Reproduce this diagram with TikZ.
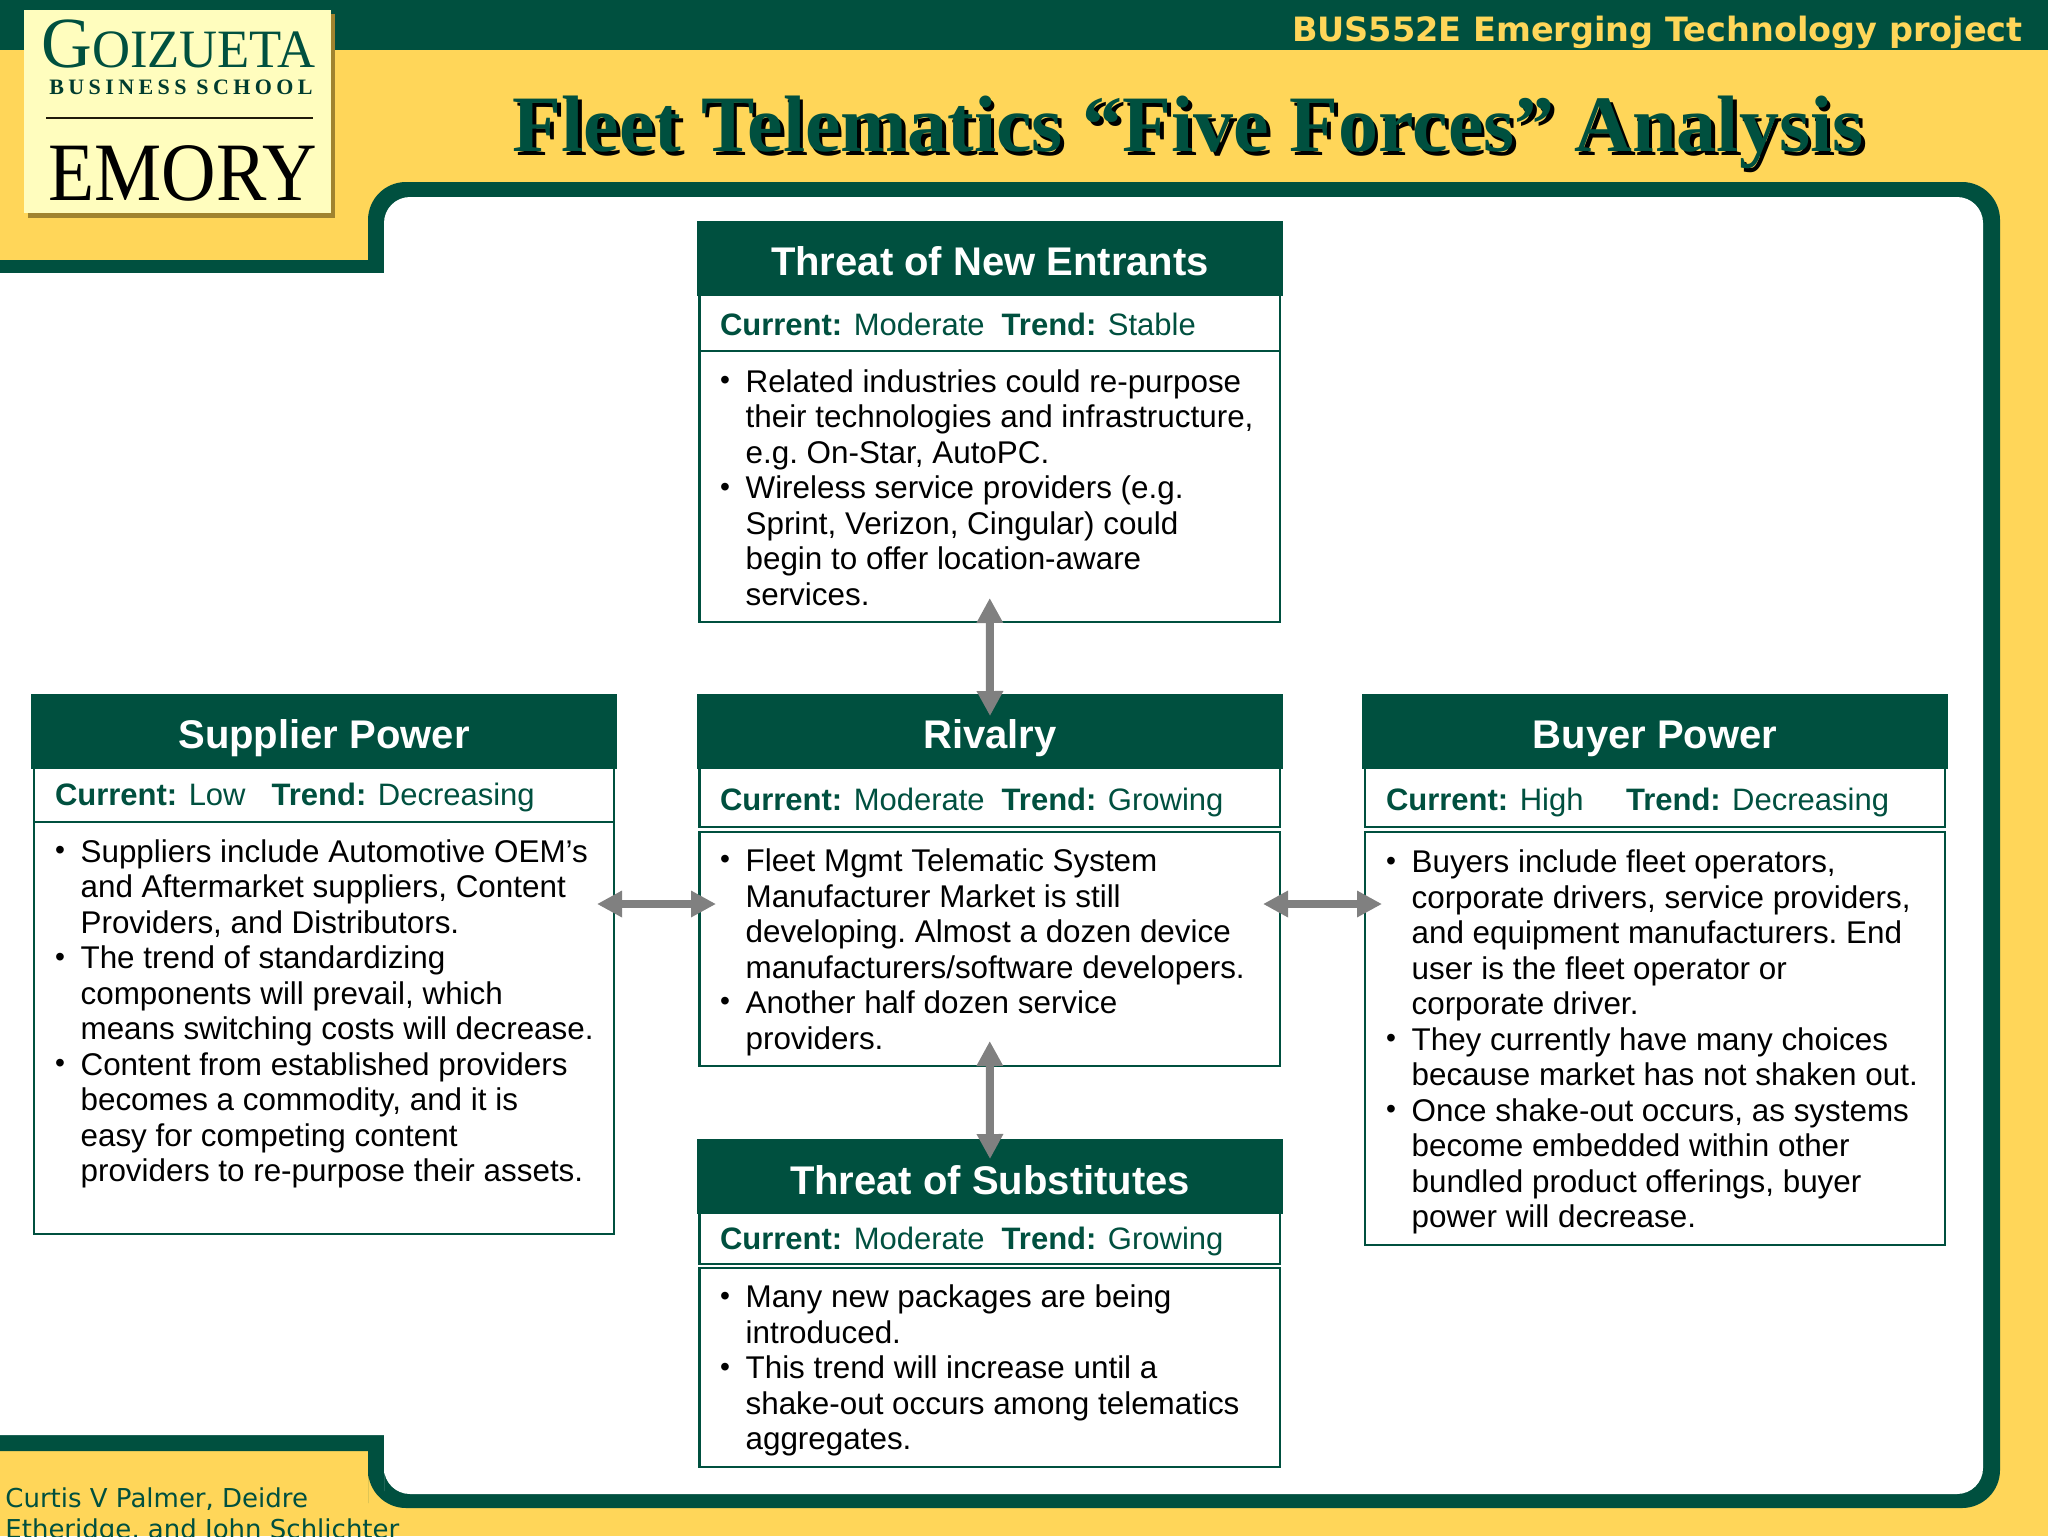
\documentclass[tikz,border=0pt]{standalone}
\usepackage{fontspec}
\usepackage{graphicx}
\setmainfont{Liberation Sans}
\newfontfamily\timesf{Liberation Serif}
\newfontfamily\timesls[LetterSpace=20]{Liberation Serif}
\newfontfamily\verd{DejaVu Sans}
\usetikzlibrary{arrows.meta,calc}
\definecolor{dkgreen}{HTML}{00503F}
\definecolor{bgyellow}{HTML}{FFD659}
\definecolor{logoyellow}{HTML}{FFFDBE}
\definecolor{logoshadow}{HTML}{A0832F}
\definecolor{arrowgray}{HTML}{808080}
\tikzset{
  px/.style={x=0.5pt,y=-0.5pt},
  headbox/.style={fill=dkgreen,draw=dkgreen,line width=1pt,inner sep=0pt,outer sep=0pt,text=white,font=\bfseries\fontsize{20}{24}\selectfont},
  linebox/.style={draw=dkgreen,fill=white,line width=1.4pt,inner sep=0pt,outer sep=0pt},
  statustext/.style={anchor=base west,inner sep=0pt,outer sep=0pt,text=dkgreen,font=\fontsize{15.5}{18}\selectfont},
  bodytext/.style={anchor=north west,inner sep=0pt,outer sep=0pt,align=left,text=black,font=\frenchspacing\fontsize{15.7}{17.75}\selectfont},
  biarrow/.style={draw=arrowgray,line width=4pt,{Triangle[length=12.5pt,width=12.5pt,fill=arrowgray]}-{Triangle[length=12.5pt,width=12.5pt,fill=arrowgray]}},
}
\newcommand\pxbox[7]{\node[#1,minimum width={0.5pt*(#4-#3)},minimum height={0.5pt*(#6-#5)}] (#2) at ({(#3+#4)/2},{(#5+#6)/2}) {#7};}
\newcommand\bul{\strut\makebox[12.8pt][l]{\raisebox{1.3pt}{\scalebox{.9}{•}}}}
\newcommand\cont{\strut\hspace*{12.8pt}}
\newcommand\stat[4]{\textbf{Current:} #1\hspace{#2}\textbf{Trend:} #3}
\newcommand\headtxt[2]{\raisebox{#1}[0pt][0pt]{#2}}
\begin{document}
\begin{tikzpicture}[px]
\useasboundingbox (0,0) rectangle (2048,1536);
\fill[bgyellow] (0,0) rectangle (2048,1536);
\fill[dkgreen] (0,0) rectangle (2048,50);
% frame
\fill[dkgreen] (-60,260) -- (368,260) -- (368,235) [rounded corners=19pt] -- (368,182) -- (2000,182) -- (2000,1508) -- (368,1508) -- (368,1465) [sharp corners] -- (368,1451) -- (-60,1451) -- cycle;
\fill[white] (-60,273) -- (384,273) -- (384,235) [rounded corners=13pt] -- (384,197) -- (1983,197) -- (1983,1494) -- (384,1494) -- (384,1465) [sharp corners] -- (384,1435) -- (-60,1435) -- cycle;
% logo
\fill[logoshadow] (28,14) rectangle (335,218);
\fill[logoyellow] (24,10) rectangle (331,213);
\node[anchor=base west,inner sep=0pt,text=dkgreen] (goiz) at (41,68) {\scalebox{.975}[1]{\timesf\fontsize{36}{36}\selectfont G\fontsize{27}{27}\selectfont OIZUETA}};
\node[anchor=base west,inner sep=0pt,text=dkgreen!75!black] (bsch) at (49,95) {\timesls\bfseries\fontsize{11}{11}\selectfont BUSINESS SCHOOL};
\draw[line width=.8pt,draw=black!80!logoshadow] (46,118) -- (313,118);
\node[anchor=base west,inner sep=0pt,text=black] (emory) at (48,200) {\scalebox{.91}[1]{\timesf\fontsize{41.5}{41.5}\selectfont EMORY}};
% top texts
\node[anchor=base east,inner sep=0pt,text=bgyellow] (proj) at (2023,42) {\verd\bfseries\fontsize{16.75}{18}\selectfont BUS552E Emerging Technology project};
\node[anchor=base,inner sep=0pt,text=dkgreen] (title) at (1188,151) {\rlap{\hspace{1.8pt}\raisebox{-2pt}{\textcolor{black}{\timesf\bfseries\fontsize{40}{44}\selectfont Fleet Telematics “Five Forces” Analysis}}}\timesf\bfseries\fontsize{40}{44}\selectfont Fleet Telematics “Five Forces” Analysis};
\node[anchor=north west,inner sep=0pt,text=dkgreen,align=left,font=\verd\fontsize{13}{15.5}\selectfont] (authors) at (5,1485.3) {\strut Curtis V Palmer, Deidre\\ \strut Etheridge, and John Schlichter};
% Threat of New Entrants
\pxbox{linebox}{entstat}{699.5}{1280}{290}{351}{}
\pxbox{linebox}{entbody}{699.5}{1280}{351}{622}{}
\pxbox{headbox}{enthead}{698}{1282}{222}{295}{\headtxt{-8.45pt}{Threat of New Entrants}}
\node[statustext] (entst) at (720,335) {\stat{Moderate}{8.5pt}{Stable}{}};
\node[bodytext] (entbt) at (720,367.4) {\bul Related industries could re-purpose\\ \cont their technologies and infrastructure,\\ \cont e.g. On-Star, AutoPC.\\ \bul Wireless service providers (e.g.\\ \cont Sprint, Verizon, Cingular) could\\ \cont begin to offer location-aware\\ \cont services.};
% Supplier
\pxbox{linebox}{supstat}{34}{614}{765}{822}{}
\pxbox{linebox}{supbody}{34}{614}{822}{1234}{}
\pxbox{headbox}{suphead}{32}{616}{695}{768}{\headtxt{-8.25pt}{Supplier Power}}
\node[statustext] (supst) at (55,805) {\stat{Low}{13pt}{Decreasing}{}};
\node[bodytext] (supbt) at (55,837.5) {\bul Suppliers include Automotive OEM’s\\ \cont and Aftermarket suppliers, Content\\ \cont Providers, and Distributors.\\ \bul The trend of standardizing\\ \cont components will prevail, which\\ \cont means switching costs will decrease.\\ \bul Content from established providers\\ \cont becomes a commodity, and it is\\ \cont easy for competing content\\ \cont providers to re-purpose their assets.};
% Rivalry
\pxbox{linebox}{rivstat}{699.5}{1280}{765}{827}{}
\pxbox{linebox}{rivbody}{699.5}{1280}{832}{1066}{}
\pxbox{headbox}{rivhead}{698}{1282}{695}{768}{\headtxt{-8.25pt}{Rivalry}}
\node[statustext] (rivst) at (720,810) {\stat{Moderate}{8.5pt}{Growing}{}};
\node[bodytext] (rivbt) at (720,846.7) {\bul Fleet Mgmt Telematic System\\ \cont Manufacturer Market is still\\ \cont developing. Almost a dozen device\\ \cont manufacturers/software developers.\\ \bul Another half dozen service\\ \cont providers.};
% Buyer
\pxbox{linebox}{buystat}{1365}{1945}{765}{827}{}
\pxbox{linebox}{buybody}{1365}{1945}{832}{1245}{}
\pxbox{headbox}{buyhead}{1363}{1947}{695}{768}{\headtxt{-8.25pt}{Buyer Power}}
\node[statustext] (buyst) at (1386,810) {\stat{High}{21.25pt}{Decreasing}{}};
\node[bodytext] (buybt) at (1386,848) {\bul Buyers include fleet operators,\\ \cont corporate drivers, service providers,\\ \cont and equipment manufacturers. End\\ \cont user is the fleet operator or\\ \cont corporate driver.\\ \bul They currently have many choices\\ \cont because market has not shaken out.\\ \bul Once shake-out occurs, as systems\\ \cont become embedded within other\\ \cont bundled product offerings, buyer\\ \cont power will decrease.};
% Substitutes
\pxbox{linebox}{substat}{699.5}{1280}{1205}{1264}{}
\pxbox{linebox}{subbody}{699.5}{1280}{1268}{1467}{}
\pxbox{headbox}{subhead}{698}{1282}{1140}{1213}{\headtxt{-9.1pt}{Threat of Substitutes}}
\node[statustext] (subst) at (720,1249) {\stat{Moderate}{8.5pt}{Growing}{}};
\node[bodytext] (subbt) at (720,1283) {\bul Many new packages are being\\ \cont introduced.\\ \bul This trend will increase until a\\ \cont shake-out occurs among telematics\\ \cont aggregates.};
% arrows
\draw[biarrow] ([yshift=12pt]entbody.south) -- ([yshift=-10.5pt]rivhead.north);
\draw[biarrow] ([yshift=12.5pt]rivbody.south) -- ([yshift=-9.5pt]subhead.north);
\draw[biarrow] ($(supbody.east |- rivbody.center)+(-17,-45)$) -- ($(rivbody.west)+(16.5,-45)$);
\draw[biarrow] ($(rivbody.east)+(-17,-45)$) -- ($(buybody.west |- rivbody.center)+(17,-45)$);
\end{tikzpicture}
\end{document}
